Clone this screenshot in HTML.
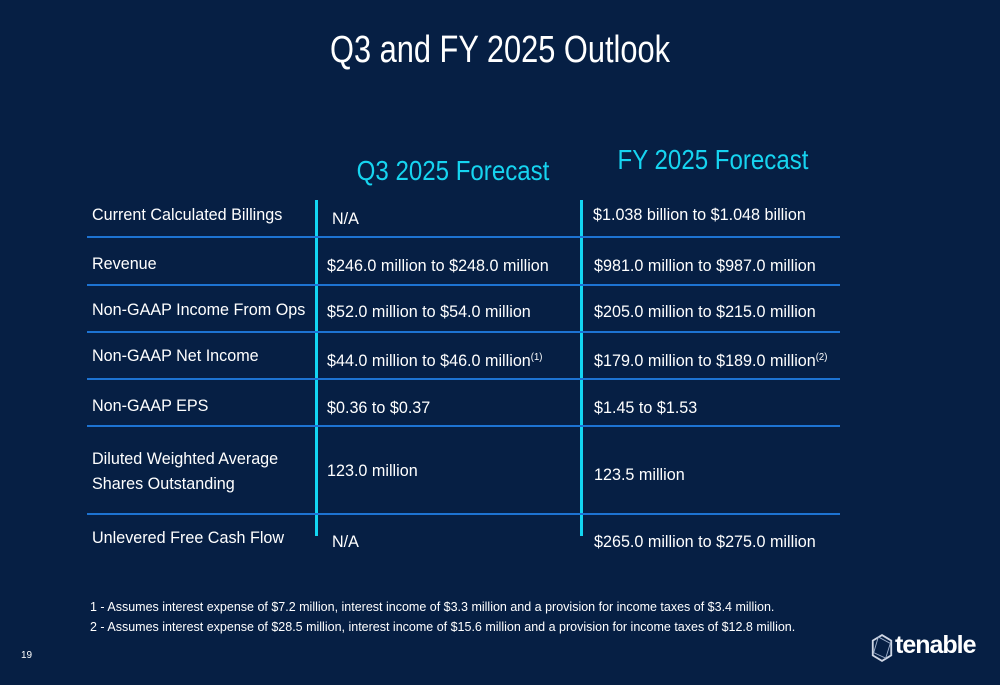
<!DOCTYPE html>
<html><head><meta charset="utf-8"><style>
body{margin:0;width:1000px;height:685px;background:#061f44;overflow:hidden;font-family:"Liberation Sans Narrow","Liberation Sans",sans-serif;color:#fff;position:relative}
.t{position:absolute;white-space:nowrap;font-size:17px;line-height:20px;transform-origin:left center;transform:scaleX(.95)}
.h{position:absolute;left:87px;width:753px;height:2px;background:#1d73d2}
.v{position:absolute;width:3px;background:#13d6f2;top:200px;height:336px}
sup{font-size:10px;vertical-align:6px}
</style></head><body>
<div style="position:absolute;left:0;width:1000px;top:28px;text-align:center;font-size:38px;line-height:44px;transform:scaleX(.81)">Q3 and FY 2025 Outlook</div>
<div style="position:absolute;left:300px;width:306px;top:155px;text-align:center;font-size:28px;color:#16d4f0;transform:scaleX(.86)">Q3 2025 Forecast</div>
<div style="position:absolute;left:560px;width:306px;top:144px;text-align:center;font-size:28px;color:#16d4f0;transform:scaleX(.86)">FY 2025 Forecast</div>
<div class="v" style="left:315px"></div>
<div class="v" style="left:580px"></div>
<div class="h" style="top:236px"></div>
<div class="h" style="top:284px"></div>
<div class="h" style="top:331px"></div>
<div class="h" style="top:378px"></div>
<div class="h" style="top:425px"></div>
<div class="h" style="top:513px"></div>

<div class="t" style="left:92px;top:205px">Current Calculated Billings</div>
<div class="t" style="left:332px;top:209px">N/A</div>
<div class="t" style="left:593px;top:205px">$1.038 billion to $1.048 billion</div>

<div class="t" style="left:92px;top:254px">Revenue</div>
<div class="t" style="left:327px;top:256px">$246.0 million to $248.0 million</div>
<div class="t" style="left:594px;top:256px">$981.0 million to $987.0 million</div>

<div class="t" style="left:92px;top:300px">Non-GAAP Income From Ops</div>
<div class="t" style="left:327px;top:302px">$52.0 million to $54.0 million</div>
<div class="t" style="left:594px;top:302px">$205.0 million to $215.0 million</div>

<div class="t" style="left:92px;top:346px">Non-GAAP Net Income</div>
<div class="t" style="left:327px;top:348px">$44.0 million to $46.0 million<sup>(1)</sup></div>
<div class="t" style="left:594px;top:348px">$179.0 million to $189.0 million<sup>(2)</sup></div>

<div class="t" style="left:92px;top:396px">Non-GAAP EPS</div>
<div class="t" style="left:327px;top:398px">$0.36 to $0.37</div>
<div class="t" style="left:594px;top:398px">$1.45 to $1.53</div>

<div class="t" style="left:92px;top:449px">Diluted Weighted Average</div>
<div class="t" style="left:92px;top:474px">Shares Outstanding</div>
<div class="t" style="left:327px;top:461px">123.0 million</div>
<div class="t" style="left:594px;top:465px">123.5 million</div>

<div class="t" style="left:92px;top:528px">Unlevered Free Cash Flow</div>
<div class="t" style="left:332px;top:532px">N/A</div>
<div class="t" style="left:594px;top:532px">$265.0 million to $275.0 million</div>

<div style="position:absolute;left:90px;top:600px;font-family:'Liberation Sans',sans-serif;font-size:12.5px;white-space:nowrap">1 - Assumes interest expense of $7.2 million, interest income of $3.3 million and a provision for income taxes of $3.4 million.</div>
<div style="position:absolute;left:90px;top:620px;font-family:'Liberation Sans',sans-serif;font-size:12.5px;white-space:nowrap">2 - Assumes interest expense of $28.5 million, interest income of $15.6 million and a provision for income taxes of $12.8 million.</div>
<div style="position:absolute;left:21px;top:650px;font-size:10px">19</div>
<div style="position:absolute;left:870px;top:632px;width:110px;height:32px">
<svg width="24" height="30" viewBox="0 0 26 32" style="position:absolute;left:0;top:1px"><polygon points="13,2 23,8 23,24 13,30 3,24 3,8" fill="none" stroke="#cfd6e4" stroke-width="2"/><polygon points="9,4 22,11 17,27 4,21" fill="none" stroke="#9fb0cc" stroke-width="1"/></svg>
<div style="position:absolute;left:25px;top:-1px;font-family:'Liberation Sans',sans-serif;font-weight:bold;font-size:25px;letter-spacing:-1px">tenable</div>
</div>
</body></html>
